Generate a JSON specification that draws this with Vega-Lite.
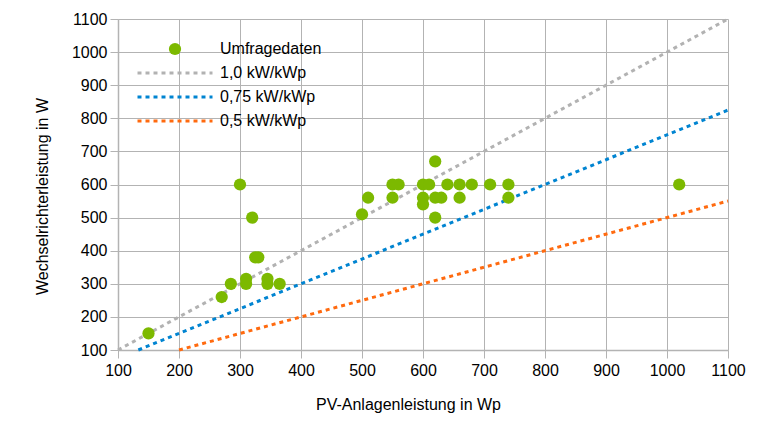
{
  "$schema": "https://vega.github.io/schema/vega-lite/v6.json",
  "width": 610,
  "height": 331,
  "autosize": {"type": "none"},
  "padding": {"left": 118, "top": 19, "right": 53, "bottom": 90},
  "background": "white",
  "config": {
    "view": {"stroke": null},
    "font": "Liberation Sans",
    "axis": {
      "labelFont": "Liberation Sans",
      "labelFontSize": 16,
      "labelColor": "#000000",
      "titleFont": "Liberation Sans",
      "titleFontSize": 16,
      "titleFontWeight": "normal",
      "titleColor": "#000000",
      "domainColor": "#b3b3b3",
      "gridColor": "#b3b3b3",
      "tickColor": "#b3b3b3",
      "tickSize": 8,
      "labelPadding": 3,
      "gridWidth": 1,
      "domainWidth": 1.5,
      "format": "d",
      "labelFlush": false,
      "labelOverlap": false,
      "labelBound": false
    }
  },
  "datasets": {
    "survey": [
      {"series": "Umfragedaten", "x": 150, "y": 150},
      {"series": "Umfragedaten", "x": 270, "y": 260},
      {"series": "Umfragedaten", "x": 285, "y": 300},
      {"series": "Umfragedaten", "x": 300, "y": 600},
      {"series": "Umfragedaten", "x": 310, "y": 300},
      {"series": "Umfragedaten", "x": 310, "y": 315},
      {"series": "Umfragedaten", "x": 320, "y": 500},
      {"series": "Umfragedaten", "x": 325, "y": 380},
      {"series": "Umfragedaten", "x": 330, "y": 380},
      {"series": "Umfragedaten", "x": 345, "y": 300},
      {"series": "Umfragedaten", "x": 345, "y": 315},
      {"series": "Umfragedaten", "x": 365, "y": 300},
      {"series": "Umfragedaten", "x": 500, "y": 510},
      {"series": "Umfragedaten", "x": 510, "y": 560},
      {"series": "Umfragedaten", "x": 550, "y": 560},
      {"series": "Umfragedaten", "x": 550, "y": 600},
      {"series": "Umfragedaten", "x": 560, "y": 600},
      {"series": "Umfragedaten", "x": 600, "y": 600},
      {"series": "Umfragedaten", "x": 610, "y": 600},
      {"series": "Umfragedaten", "x": 600, "y": 560},
      {"series": "Umfragedaten", "x": 600, "y": 540},
      {"series": "Umfragedaten", "x": 620, "y": 560},
      {"series": "Umfragedaten", "x": 630, "y": 560},
      {"series": "Umfragedaten", "x": 620, "y": 500},
      {"series": "Umfragedaten", "x": 620, "y": 670},
      {"series": "Umfragedaten", "x": 640, "y": 600},
      {"series": "Umfragedaten", "x": 660, "y": 600},
      {"series": "Umfragedaten", "x": 680, "y": 600},
      {"series": "Umfragedaten", "x": 660, "y": 560},
      {"series": "Umfragedaten", "x": 710, "y": 600},
      {"series": "Umfragedaten", "x": 740, "y": 600},
      {"series": "Umfragedaten", "x": 740, "y": 560},
      {"series": "Umfragedaten", "x": 1020, "y": 600}
    ],
    "ratios": [
      {"series": "1,0 kW/kWp", "x": 100, "y": 100},
      {"series": "1,0 kW/kWp", "x": 1100, "y": 1100},
      {"series": "0,75 kW/kWp", "x": 133.33, "y": 100},
      {"series": "0,75 kW/kWp", "x": 1100, "y": 825},
      {"series": "0,5 kW/kWp", "x": 200, "y": 100},
      {"series": "0,5 kW/kWp", "x": 1100, "y": 550}
    ]
  },
  "encoding": {
    "x": {
      "field": "x", "type": "quantitative",
      "scale": {"domain": [100, 1100], "nice": false, "zero": false},
      "axis": {
        "values": [100, 200, 300, 400, 500, 600, 700, 800, 900, 1000, 1100],
        "title": "PV-Anlagenleistung in Wp",
        "titleX": 290, "titleY": 54, "titleBaseline": "middle",
        "labelPadding": 4
      }
    },
    "y": {
      "field": "y", "type": "quantitative",
      "scale": {"domain": [100, 1100], "nice": false, "zero": false},
      "axis": {
        "values": [100, 200, 300, 400, 500, 600, 700, 800, 900, 1000, 1100],
        "title": "Wechselrichterleistung in W",
        "titleX": -76, "titleY": 177, "titleBaseline": "middle"
      }
    },
    "color": {
      "field": "series", "type": "nominal",
      "scale": {
        "domain": ["Umfragedaten", "1,0 kW/kWp", "0,75 kW/kWp", "0,5 kW/kWp"],
        "range": ["#7cb900", "#b2b2b2", "#0084d1", "#ff6a0f"]
      },
      "legend": {
        "title": null,
        "orient": "none",
        "legendX": 19,
        "legendY": 19,
        "padding": 0,
        "symbolStrokeWidth": 3,
        "clipHeight": 22,
        "rowPadding": 2,
        "labelFont": "Liberation Sans",
        "labelFontSize": 16,
        "labelColor": "#000000",
        "encode": {
          "symbols": {
            "update": {
              "x": {"value": 38},
              "shape": {"signal": "datum.value === 'Umfragedaten' ? 'circle' : 'stroke'"},
              "size": {"signal": "datum.value === 'Umfragedaten' ? 150 : 5625"},
              "strokeDash": {"signal": "datum.value === 'Umfragedaten' ? [] : [4, 4]"},
              "strokeWidth": {"signal": "datum.value === 'Umfragedaten' ? 0 : 3"},
              "fill": {"scale": "color", "field": "value"},
              "stroke": {"scale": "color", "field": "value"},
              "opacity": {"value": 1}
            }
          },
          "labels": {
            "update": {
              "x": {"value": 83}
            }
          }
        }
      }
    }
  },
  "layer": [
    {
      "data": {"name": "ratios"},
      "mark": {"type": "line", "strokeWidth": 3, "strokeDash": [4, 4], "strokeCap": "butt"},
      "encoding": {"detail": {"field": "series"}}
    },
    {
      "data": {"name": "survey"},
      "mark": {"type": "point", "shape": "circle", "filled": true, "size": 150, "opacity": 1, "strokeWidth": 0}
    }
  ]
}
